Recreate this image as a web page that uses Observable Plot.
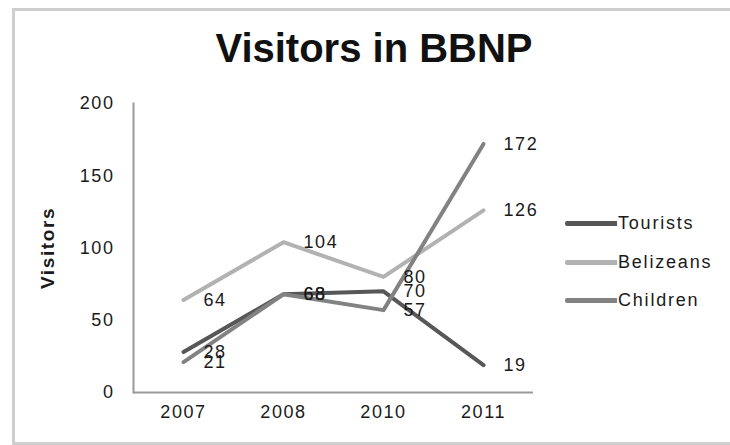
<!DOCTYPE html>
<html>
<head>
<meta charset="utf-8">
<script src="https://cdn.jsdelivr.net/npm/d3@7"></script>
<script src="https://cdn.jsdelivr.net/npm/@observablehq/plot@0.6"></script>
<style>
  html, body { margin: 0; padding: 0; background: #fff; overflow: hidden; }
  #wrap { position: relative; width: 730px; height: 445px; overflow: hidden; font-family: "Liberation Sans", Arial, sans-serif; color: #1a1a1a; }
  #frame { position: absolute; left: 12px; top: 8px; width: 800px; height: 437px; border: 3px solid #cfcfcf; box-sizing: border-box; }
  #title { position: absolute; left: 0; top: 28px; width: 748px; text-align: center; font-weight: bold; font-size: 40px; line-height: 40px; color: #111; }
  #chart { position: absolute; left: 0; top: 80px; }
  #legend { position: absolute; left: 565px; top: 0; }
  .item { position: absolute; left: 0; height: 20px; white-space: nowrap; }
  .sw { position: absolute; left: 0; top: 8px; width: 52px; height: 5px; border-radius: 2px 0 0 2px; }
  .lab { position: absolute; left: 53px; top: 0; font-size: 18px; line-height: 20px; letter-spacing: 1.8px; color: #1a1a1a; }
</style>
</head>
<body>
<div id="wrap">
  <div id="frame"></div>
  <div id="title">Visitors in BBNP</div>
  <div id="chart"></div>
  <div id="legend"></div>
</div>
<script>
const years = ["2007", "2008", "2010", "2011"];
const tourists = [28, 68, 70, 19];
const belizeans = [64, 104, 80, 126];
const children = [21, 68, 57, 172];
const seriesNames = ["Tourists", "Belizeans", "Children"];
const seriesColors = ["#575757", "#b2b2b2", "#828282"];
const yTicks = [0, 50, 100, 150, 200];

const seriesValues = [tourists, belizeans, children];
const rows = [];
seriesNames.forEach((s, i) => {
  years.forEach((y, j) => rows.push({series: s, year: y, value: seriesValues[i][j]}));
});

const chart = Plot.plot({
  width: 730,
  height: 365,
  marginLeft: 133,
  marginRight: 197,
  marginTop: 23,
  marginBottom: 53,
  style: {fontFamily: "'Liberation Sans', Arial, sans-serif", fontSize: "18px", letterSpacing: "1.6px", color: "#1a1a1a", background: "transparent"},
  x: {type: "point", domain: years, padding: 0.5, label: null, tickSize: 0, tickPadding: 13},
  y: {domain: [0, 200], ticks: yTicks, label: null, tickSize: 0, tickPadding: 19},
  color: {domain: seriesNames, range: seriesColors},
  marks: [
    Plot.frame({anchor: "left", stroke: "#9a9a9a", strokeWidth: 2}),
    Plot.ruleY([0], {stroke: "#9a9a9a", strokeWidth: 2}),
    Plot.line(rows, {x: "year", y: "value", z: "series", stroke: "series", strokeWidth: 4}),
    Plot.text(rows, {x: "year", y: "value", text: d => String(d.value), dx: 20, textAnchor: "start", fill: "#1a1a1a", fontSize: 18}),
    Plot.text(["Visitors"], {frameAnchor: "left", textAnchor: "middle", rotate: -90, dx: -86, fontWeight: "bold", fontSize: 19, fill: "#1a1a1a"})
  ]
});
document.getElementById("chart").appendChild(chart);

const legend = document.getElementById("legend");
const legendY = [223, 262, 300];
seriesNames.forEach((s, i) => {
  const item = document.createElement("div");
  item.className = "item";
  item.style.top = (legendY[i] - 10) + "px";
  const sw = document.createElement("div");
  sw.className = "sw";
  sw.style.background = seriesColors[i];
  const lab = document.createElement("div");
  lab.className = "lab";
  lab.textContent = s;
  item.appendChild(sw);
  item.appendChild(lab);
  legend.appendChild(item);
});
</script>
</body>
</html>
